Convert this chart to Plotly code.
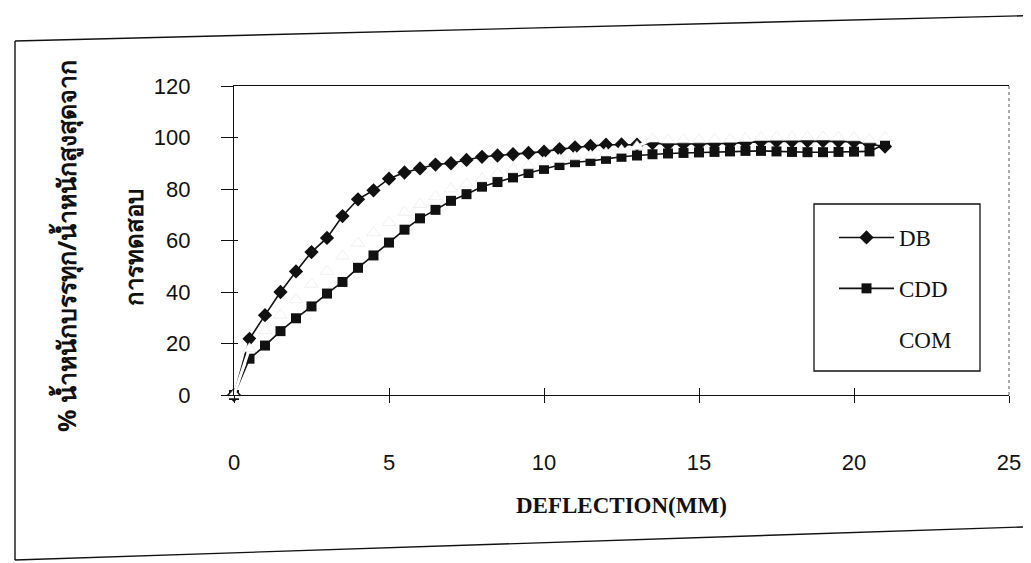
import plotly.graph_objects as go

# ---------------- data ----------------
deflection = [0, 0.5, 1, 1.5, 2, 2.5, 3, 3.5, 4, 4.5, 5, 5.5, 6, 6.5, 7, 7.5, 8, 8.5,
              9, 9.5, 10, 10.5, 11, 11.5, 12, 12.5, 13, 13.5, 14, 14.5, 15, 15.5,
              16, 16.5, 17, 17.5, 18, 18.5, 19, 19.5, 20, 20.5, 21]

db = [0, 21.8, 31, 40, 48, 55.5, 61, 69.5, 76, 79.5, 84, 86.4, 88, 89.5, 90, 91.3,
      92.5, 93, 93.5, 94, 94.5, 95.5, 96.2, 96.7, 97.2, 97.3, 97.2, 97.8, 97.4, 97.5,
      97.5, 97.6, 97.7, 98, 98.4, 98.5, 98.5, 98.6, 98.6, 98.5, 98.3, 97.5, 96.5]

cdd = [0, 14.1, 19.2, 24.8, 29.8, 34.4, 39.4, 43.9, 49.4, 54.2, 59.2, 64.2, 68.6, 71.9,
       75.4, 78, 80.9, 82.7, 84.5, 86.2, 87.8, 89.3, 90.4, 90.9, 91.7, 92.5, 93.0, 93.5,
       93.8, 94.0, 94.2, 94.4, 94.6, 94.8, 94.8, 94.6, 94.4, 94.3, 94.3, 94.4, 94.5,
       94.6, 97.5]

com = [0, 18, 25, 31, 37, 43, 48, 54, 59, 63, 67, 71, 74, 77, 80, 82, 84, 86, 87.5, 89,
       90.5, 91.5, 92.5, 93, 94, 95, 96.5, 99.4, 99.0, 99.1, 99.1, 99.2, 99.3, 99.6, 100,
       100.1, 100.1, 100.2, 100.2, 100.1, 99.9, 99.1, 100]

y_ticks = [0, 20, 40, 60, 80, 100, 120]
x_ticks = [0, 5, 10, 15, 20, 25]
x_cross_ticks = [5, 10, 15, 20]

# ---------------- layout geometry ----------------
W, H = 1031, 563
L, R, T, B = 226, 30, 78, 176
PW, PH = W - L - R, H - T - B


def px(X):
    return (X - L) / PW


def py(Y):
    return 1 - (Y - T) / PH


BLACK = "#111111"

fig = go.Figure()

fig.add_trace(go.Scatter(
    x=deflection, y=db, name="DB", mode="lines+markers", legendgroup="a",
    line=dict(color=BLACK, width=1.6),
    marker=dict(symbol="diamond", size=11, color=BLACK),
    cliponaxis=False))

fig.add_trace(go.Scatter(
    x=deflection, y=cdd, name="CDD", mode="lines+markers", legendgroup="b",
    line=dict(color=BLACK, width=1.6),
    marker=dict(symbol="square", size=10, color=BLACK),
    cliponaxis=False))

# COM was a pale (yellow) series that almost vanished in the scan
fig.add_trace(go.Scatter(
    x=deflection, y=com, name="COM", mode="lines+markers", legendgroup="c",
    showlegend=False,
    line=dict(color="#ffffff", width=3),
    marker=dict(symbol="triangle-up", size=12, color="#ffffff",
                line=dict(color="#e4e4e4", width=0.6)),
    cliponaxis=False))

fig.add_trace(go.Scatter(
    x=[None], y=[None], name="COM", mode="lines", legendgroup="c",
    line=dict(color="#ffffff", width=1.6)))

# helper trace so the overlay axes (inner halves of the crossing ticks) are drawn
fig.add_trace(go.Scatter(x=[None], y=[None], xaxis="x2", yaxis="y2",
                         showlegend=False, hoverinfo="skip"))

fig.update_layout(
    width=W, height=H,
    margin=dict(l=L, r=R, t=T, b=B),
    paper_bgcolor="white", plot_bgcolor="white",
    font=dict(family="Liberation Sans, Arial", color=BLACK),
    xaxis=dict(range=[0, 25], tickvals=x_ticks, ticktext=[str(v) for v in x_ticks],
               showgrid=False, zeroline=False, showline=True, linecolor=BLACK,
               linewidth=1.3, mirror=True, ticks="outside", ticklen=7,
               tickcolor=BLACK, tickfont=dict(size=22, family="Liberation Sans, Arial"),
               ticklabelstandoff=40),
    yaxis=dict(range=[0, 120], tickvals=y_ticks, showgrid=False, zeroline=False,
               showline=True, linecolor=BLACK, linewidth=1.3, ticks="outside",
               ticklen=12, tickcolor=BLACK,
               tickfont=dict(size=22, family="Liberation Sans, Arial"),
               ticklabelstandoff=26),
    xaxis2=dict(range=[0, 25], overlaying="x", anchor="y2", tickvals=x_cross_ticks,
                ticks="inside", ticklen=7, tickcolor=BLACK, showticklabels=False,
                showgrid=False, zeroline=False, showline=False, side="bottom"),
    yaxis2=dict(range=[0, 120], overlaying="y", anchor="x2", tickvals=y_ticks,
                ticks="inside", ticklen=4, tickcolor=BLACK, showticklabels=False,
                showgrid=False, zeroline=False, showline=False, side="left"),
    showlegend=True,
    legend=dict(x=px(826), y=py(208), xanchor="left", yanchor="top",
                bgcolor="rgba(0,0,0,0)", borderwidth=0,
                font=dict(size=23, family="Liberation Serif, Times New Roman", color=BLACK),
                traceorder="grouped", tracegroupgap=18, itemwidth=55),
)

# plot-area right edge (dotted) and legend box
fig.add_shape(type="line", xref="paper", yref="paper", x0=1, x1=1, y0=0, y1=1,
              line=dict(color="#555555", width=1, dash="dot"))
fig.add_shape(type="rect", xref="paper", yref="paper",
              x0=px(806), x1=px(972), y0=py(363), y1=py(196),
              line=dict(color=BLACK, width=1.3), fillcolor="rgba(0,0,0,0)")

# outer chart frame (slightly skewed like the scanned page)
for (xa, ya, xb, yb) in [(7, 33, 1045, 7), (7, 33, 7, 552), (7, 552, 1045, 518)]:
    fig.add_shape(type="line", xref="paper", yref="paper",
                  x0=px(xa), y0=py(ya), x1=px(xb), y1=py(yb),
                  line=dict(color=BLACK, width=1.4))

# axis titles
fig.add_annotation(text="<b>DEFLECTION(MM)</b>", xref="paper", yref="paper",
                   x=0.5, y=py(497), showarrow=False, xanchor="center", yanchor="middle",
                   font=dict(size=23, family="Liberation Serif, Times New Roman", color=BLACK))
fig.add_annotation(text="<b>% น้ำหนักบรรทุก/น้ำหนักสูงสุดจาก</b>", xref="paper", yref="paper",
                   x=px(58), y=py(238), showarrow=False, textangle=-90,
                   xanchor="center", yanchor="middle",
                   font=dict(size=25, family="Noto Sans, DejaVu Sans", color=BLACK))
fig.add_annotation(text="<b>การทดสอบ</b>", xref="paper", yref="paper",
                   x=px(125), y=py(240), showarrow=False, textangle=-90,
                   xanchor="center", yanchor="middle",
                   font=dict(size=24, family="Noto Sans, DejaVu Sans", color=BLACK))

fig.write_html("out.html")
